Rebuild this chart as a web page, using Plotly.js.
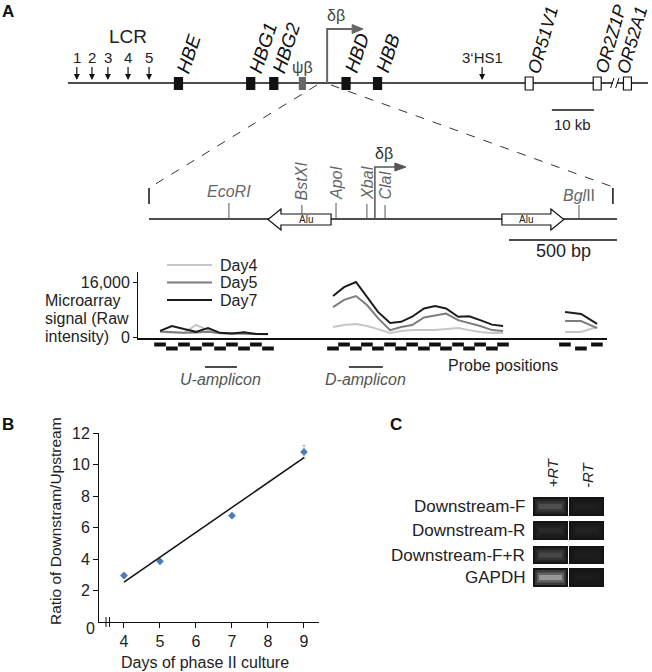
<!DOCTYPE html>
<html>
<head>
<meta charset="utf-8">
<script src="https://cdn.plot.ly/plotly-3.0.1.min.js"></script>
<style>
  body { margin: 0; background: #fff; }
  #fig { width: 652px; height: 672px; }
</style>
</head>
<body>
<div id="fig"></div>
<script>
// ---------- A: beta-globin locus (kb) ----------
const lcrSites = ["1", "2", "3", "4", "5"];
const lcrKb = [2.1, 5.7, 9.5, 14.3, 19.3];
const globinGenes = ["HBE", "HBG1", "HBG2", "HBD", "HBB"];
const globinKb = [26.3, 43.5, 49.0, 66.2, 73.7];
const pseudoGene = "ψβ";
const pseudoKb = 55.8;
const orGenes = ["OR51V1", "OR2Z1P", "OR52A1"];
const orKb = [109.8, 126.0, 133.2];
const hs3Kb = 98.6;
const dbStartKb = 61.7;
const breakKb = 130.2;
const locusEndKb = 138.1;
const scaleKb = [115.2, 125.2];

// ---------- A: enlarged delta-beta region (bp) ----------
const regionLenBp = 2167;
const bracketBp = [0, 2148];
const siteNames = ["<i>EcoRI</i>", "<i>BstXI</i>", "<i>ApoI</i>", "<i>XbaI</i>", "<i>ClaI</i>", "<i>Bgl</i>II"];
const siteBp = [370, 708, 866, 1009, 1093, 1991];
const aluLeftBp = [551, 843];
const aluRightBp = [1634, 1921];
const dbStartBp = 1046;
const scaleBp = [1667, 2167];
const uAmpliconBp = [259, 407];
const dAmpliconBp = [926, 1083];

// ---------- A: microarray probes and signal ----------
const days = ["Day4", "Day5", "Day7"];
const dayColors = ["#c6c6c6", "#7d7d7d", "#1c1c1c"];
const probeU = [51, 106, 162, 217, 273, 329, 384, 440, 495, 551];
const probeD = [852, 903, 958, 1009, 1060, 1116, 1167, 1218, 1273, 1324, 1375, 1431, 1482, 1533, 1588, 1639];
const probeR = [1926, 2000, 2074];
const day4U = [1450, 1300, 1150, 3500, 2000, 1150, 1000, 1200, 900, 900];
const day5U = [1600, 1400, 1200, 1300, 1500, 1100, 1000, 1100, 800, 800];
const day7U = [1800, 3200, 2300, 1500, 2600, 1200, 1000, 1400, 900, 900];
const day4D = [2900, 3500, 3800, 3200, 2300, 1150, 1750, 2000, 2000, 2000, 2300, 2600, 2000, 1450, 1150, 1150];
const day5D = [8700, 10800, 11900, 9300, 5500, 2000, 2900, 3500, 5700, 6300, 6800, 4900, 4100, 3200, 2000, 1750];
const day7D = [11900, 14500, 16000, 11600, 7300, 4100, 4400, 5900, 8300, 9000, 8300, 5900, 6000, 4900, 3600, 3200];
const day4R = [1450, 1450, 2900];
const day5R = [4650, 4650, 2600];
const day7R = [7300, 6700, 3800];

// ---------- B ----------
const cultureDay = [4, 5, 7, 9];
const ratio = [2.95, 3.85, 6.75, 10.8];
const ratioErr = [0.15, 0.1, 0.1, 0.4];

// ---------- C ----------
const gelRows = ["Downstream-F", "Downstream-R", "Downstream-F+R", "GAPDH"];
const gelLanes = ["+RT", "-RT"];
const bandLevel = [[0.35, 0.05], [0.12, 0.07], [0.3, 0.04], [0.8, 0.03]];

// ---------- helpers ----------
const W = 652, H = 672;
const px = v => v / W;
const py = v => 1 - v / H;
const BP_PER_PX = 4.63, KB_PER_PX = 1 / 4.2;
const FONT = "Liberation Sans, Arial, sans-serif";
const mid = a => (a[0] + a[1]) / 2;

const traces = [];
const shapes = [];
const anns = [];
function txt(o) {
  const f = Object.assign({ size: 15, color: "#222" }, o.font || {});
  return Object.assign({ showarrow: false, xref: "paper", yref: "y3", xanchor: "center", yanchor: "middle" }, o, { font: f });
}

// ----- locus map -----
traces.push({
  x: [0, breakKb - 0.5, null, breakKb + 0.5, locusEndKb], y: [83, 83, null, 83, 83],
  xaxis: "x4", yaxis: "y3", mode: "lines", line: { color: "#111", width: 1.5 },
  hoverinfo: "skip", showlegend: false
});
globinKb.forEach((k, i) => {
  shapes.push({ type: "rect", xref: "x4", yref: "y3", x0: k - 1.1, x1: k + 1.1, y0: 77, y1: 90,
    fillcolor: "#111", line: { width: 0 } });
  anns.push(txt({ xref: "x4", x: k, y: 78, xanchor: "left", yanchor: "bottom", xshift: -8, textangle: -72,
    text: "<i>" + globinGenes[i] + "</i>", font: { size: 19, color: "#111" } }));
});
shapes.push({ type: "rect", xref: "x4", yref: "y3", x0: pseudoKb - 0.85, x1: pseudoKb + 0.85, y0: 77, y1: 90,
  fillcolor: "#666", line: { width: 0 } });
anns.push(txt({ xref: "x4", x: pseudoKb, y: 67, text: pseudoGene, font: { size: 16, color: "#444" } }));
orKb.forEach((k, i) => {
  shapes.push({ type: "rect", xref: "x4", yref: "y3", x0: k - 0.95, x1: k + 0.95, y0: 77, y1: 90,
    fillcolor: "#fff", line: { color: "#111", width: 1.2 } });
  const last = i === orKb.length - 1;
  anns.push(txt({ xref: "x4", x: k, y: 78, xanchor: last ? "right" : "left", yanchor: "bottom",
    xshift: last ? 26 : -8, textangle: -74,
    text: "<i>" + orGenes[i] + "</i>", font: { size: 18, color: "#111" } }));
});
// break marks
[-0.6, 0.6].forEach(d => shapes.push({ type: "line", xref: "x4", yref: "y3",
  x0: breakKb + d - 0.4, x1: breakKb + d + 0.4, y0: 88, y1: 78, line: { color: "#111", width: 1 } }));
// LCR hypersensitive sites and 3'HS1
lcrKb.forEach((k, i) => anns.push(txt({ xref: "x4", x: k, y: 80, text: lcrSites[i], showarrow: true,
  arrowhead: 2, arrowsize: 1, arrowwidth: 1.2, arrowcolor: "#111", ax: 0, ay: -23, font: { size: 15 } })));
anns.push(txt({ xref: "x4", x: hs3Kb, y: 80, text: "3‘HS1", showarrow: true,
  arrowhead: 2, arrowsize: 1, arrowwidth: 1.2, arrowcolor: "#111", ax: 0, ay: -23, font: { size: 15 } }));
anns.push(txt({ x: px(128), y: 36, text: "LCR", font: { size: 19 } }));
// delta-beta start
const dbH = 25 * KB_PER_PX, dbT = 36 * KB_PER_PX;
shapes.push({ type: "path", xref: "x4", yref: "y3",
  path: `M${dbStartKb},83 L${dbStartKb},29 L${dbStartKb + dbH},29`, line: { color: "#666", width: 2 } });
shapes.push({ type: "path", xref: "x4", yref: "y3",
  path: `M${dbStartKb + dbH},24.5 L${dbStartKb + dbT},29 L${dbStartKb + dbH},33.5 Z`,
  fillcolor: "#666", line: { color: "#666", width: 1 } });
anns.push(txt({ xref: "x4", x: dbStartKb, xshift: 9, y: 15, text: "δβ", font: { size: 16, color: "#444" } }));
// 10 kb scale
shapes.push({ type: "line", xref: "x4", yref: "y3", x0: scaleKb[0], x1: scaleKb[1], y0: 110, y1: 110,
  line: { color: "#111", width: 1.5 } });
anns.push(txt({ xref: "x4", x: mid(scaleKb), y: 124, text: "10 kb", font: { size: 15 } }));

// dashed zoom lines
shapes.push({ type: "line", xref: "paper", yref: "y3", x0: px(317), y0: 85, x1: px(149), y1: 188,
  line: { color: "#333", width: 1, dash: "dash" } });
shapes.push({ type: "line", xref: "paper", yref: "y3", x0: px(331), y0: 85, x1: px(613), y1: 187,
  line: { color: "#333", width: 1, dash: "dash" } });

// ----- enlarged region -----
traces.push({ x: [0, regionLenBp], y: [219, 219], xaxis: "x3", yaxis: "y3", mode: "lines",
  line: { color: "#111", width: 1.5 }, hoverinfo: "skip", showlegend: false });
const siteTop = [203, 205, 203, 204, 205, 205];
const tickX = [], tickY = [];
siteBp.forEach((b, i) => { tickX.push(b, b, null); tickY.push(219, siteTop[i], null); });
traces.push({ x: tickX, y: tickY, xaxis: "x3", yaxis: "y3", mode: "lines",
  line: { color: "#555", width: 1 }, hoverinfo: "skip", showlegend: false });
bracketBp.forEach(b => shapes.push({ type: "line", xref: "x3", yref: "y3", x0: b, x1: b, y0: 188, y1: 204,
  line: { color: "#111", width: 1.5 } }));
siteBp.forEach((b, i) => {
  if (i === 0 || i === 5) {
    anns.push(txt({ xref: "x3", x: b, y: i === 0 ? 191 : 195, text: siteNames[i], font: { size: 16, color: "#666" } }));
  } else {
    anns.push(txt({ xref: "x3", x: b, y: 202, yanchor: "bottom", textangle: -90, text: siteNames[i],
      font: { size: 16, color: "#666" } }));
  }
});
// Alu elements
const headBp = 60;
shapes.push({ type: "path", xref: "x3", yref: "y3", fillcolor: "#fff", line: { color: "#111", width: 1.2 },
  path: `M${aluLeftBp[1]},214 L${aluLeftBp[0] + headBp},214 L${aluLeftBp[0] + headBp},209 L${aluLeftBp[0]},219.5 ` +
        `L${aluLeftBp[0] + headBp},230 L${aluLeftBp[0] + headBp},225 L${aluLeftBp[1]},225 Z` });
shapes.push({ type: "path", xref: "x3", yref: "y3", fillcolor: "#fff", line: { color: "#111", width: 1.2 },
  path: `M${aluRightBp[0]},214 L${aluRightBp[1] - headBp},214 L${aluRightBp[1] - headBp},209 L${aluRightBp[1]},219.5 ` +
        `L${aluRightBp[1] - headBp},230 L${aluRightBp[1] - headBp},225 L${aluRightBp[0]},225 Z` });
anns.push(txt({ xref: "x3", x: mid([aluLeftBp[0] + headBp, aluLeftBp[1]]), y: 219.5, text: "Alu", font: { size: 10 } }));
anns.push(txt({ xref: "x3", x: mid([aluRightBp[0], aluRightBp[1] - headBp]), y: 219.5, text: "Alu", font: { size: 10 } }));
// delta-beta start in the enlarged region
const h2 = 20 * BP_PER_PX, t2 = 31 * BP_PER_PX;
shapes.push({ type: "path", xref: "x3", yref: "y3",
  path: `M${dbStartBp},219 L${dbStartBp},167 L${dbStartBp + h2},167`, line: { color: "#555", width: 1.5 } });
shapes.push({ type: "path", xref: "x3", yref: "y3",
  path: `M${dbStartBp + h2},163 L${dbStartBp + t2},167 L${dbStartBp + h2},171 Z`,
  fillcolor: "#555", line: { color: "#555", width: 1 } });
anns.push(txt({ xref: "x3", x: dbStartBp, xshift: 9, y: 153, text: "δβ", font: { size: 16, color: "#333" } }));
// 500 bp scale
shapes.push({ type: "line", xref: "x3", yref: "y3", x0: scaleBp[0], x1: scaleBp[1], y0: 240, y1: 240,
  line: { color: "#111", width: 1.5 } });
anns.push(txt({ xref: "x3", x: mid(scaleBp), y: 251, text: "500 bp", font: { size: 18 } }));

// ----- microarray signal -----
const regions = [probeU, probeD, probeR];
const dayVals = [[day4U, day4D, day4R], [day5U, day5D, day5R], [day7U, day7D, day7R]];
days.forEach((d, i) => {
  const xs = [], ys = [];
  regions.forEach((pos, r) => {
    if (r) { xs.push(null); ys.push(null); }
    xs.push(...pos); ys.push(...dayVals[i][r]);
  });
  traces.push({ x: xs, y: ys, xaxis: "x2", yaxis: "y2", mode: "lines", name: d,
    line: { color: dayColors[i], width: 2 }, hoverinfo: "skip", showlegend: false });
  shapes.push({ type: "line", xref: "paper", yref: "y3", x0: px(167), x1: px(212), y0: 265 + i * 17.5, y1: 265 + i * 17.5,
    line: { color: dayColors[i], width: 2 } });
  anns.push(txt({ x: px(218), xanchor: "left", y: 265 + i * 17.5, text: d, font: { size: 16 } }));
});
// probe positions (staircase)
const probeStart = [0, 1, 0];
regions.forEach((pos, r) => pos.forEach((p, j) => {
  const up = (j + probeStart[r]) % 2 === 0;
  shapes.push({ type: "rect", xref: "x3", yref: "y3", x0: p - 27, x1: p + 27,
    y0: up ? 342.5 : 346.5, y1: up ? 346.5 : 350.5, fillcolor: "#111", line: { width: 0 } });
}));
anns.push(txt({ x: px(503), y: 365, text: "Probe positions", font: { size: 16 } }));
[uAmpliconBp, dAmpliconBp].forEach((a, i) => {
  shapes.push({ type: "line", xref: "x3", yref: "y3", x0: a[0], x1: a[1], y0: 367, y1: 367,
    line: { color: "#111", width: 1.5 } });
  anns.push(txt({ xref: "x3", x: mid(a), y: 379, text: i ? "<i>D-amplicon</i>" : "<i>U-amplicon</i>",
    font: { size: 16, color: "#555" } }));
});
["Microarray", "signal (Raw", "intensity)"].forEach((s, i) =>
  anns.push(txt({ x: px(43), xanchor: "left", y: 300 + i * 18, text: s, font: { size: 16 } })));

// ----- B -----
traces.push({ x: cultureDay, y: ratio, xaxis: "x", yaxis: "y", mode: "markers",
  marker: { symbol: "diamond", size: 6, color: "#4a7ebb" },
  error_y: { type: "data", array: ratioErr, color: "#a9bcd9", thickness: 1, width: 2 },
  hoverinfo: "skip", showlegend: false });
const mx = cultureDay.reduce((a, b) => a + b, 0) / cultureDay.length;
const my = ratio.reduce((a, b) => a + b, 0) / ratio.length;
let sxy = 0, sxx = 0;
cultureDay.forEach((d, i) => { sxy += (d - mx) * (ratio[i] - my); sxx += (d - mx) * (d - mx); });
const slope = sxy / sxx, icpt = my - slope * mx;
const fitX = [cultureDay[0], cultureDay[cultureDay.length - 1]];
traces.push({ x: fitX, y: fitX.map(d => icpt + slope * d), xaxis: "x", yaxis: "y", mode: "lines",
  line: { color: "#111", width: 1.5 }, hoverinfo: "skip", showlegend: false });
[106, 109.5].forEach(x => shapes.push({ type: "line", xref: "paper", yref: "y3", x0: px(x), x1: px(x), y0: 617, y1: 627,
  line: { color: "#111", width: 1 } }));
anns.push(txt({ x: px(90), y: 628, text: "0", font: { size: 16 } }));
anns.push(txt({ x: px(55), y: 521, textangle: -90, text: "Ratio of Downstram/Upstream", font: { size: 15.5 } }));
anns.push(txt({ x: px(205), y: 662, text: "Days of phase II culture", font: { size: 16 } }));

// ----- C: gel -----
const laneX = [[533, 568], [569, 604]];
const rowY = [[497, 516], [521, 540], [546, 564], [568, 587]];
const grey = v => { const g = Math.round(Math.min(255, v)); return `rgb(${g},${g},${g})`; };
gelRows.forEach((row, r) => {
  const [y0, y1] = rowY[r], yc = (y0 + y1) / 2;
  laneX.forEach(([x0, x1], l) => {
    const v = bandLevel[r][l];
    shapes.push({ type: "rect", xref: "paper", yref: "y3", x0: px(x0), x1: px(x1), y0, y1, fillcolor: "#141414", line: { width: 0 } });
    shapes.push({ type: "rect", xref: "paper", yref: "y3", x0: px(x0 + 2), x1: px(x1 - 2), y0: y0 + 2, y1: y1 - 2,
      fillcolor: grey(22 + v * 45), line: { width: 0 } });
    shapes.push({ type: "rect", xref: "paper", yref: "y3", x0: px(x0 + 4), x1: px(x1 - 4), y0: yc - 5, y1: yc + 5,
      fillcolor: grey(22 + v * 95), line: { width: 0 } });
    shapes.push({ type: "rect", xref: "paper", yref: "y3", x0: px(x0 + 6), x1: px(x1 - 6), y0: yc - 2.5, y1: yc + 2.5,
      fillcolor: grey(22 + v * 160), line: { width: 0 } });
  });
  anns.push(txt({ x: px(527), xanchor: "right", y: yc, text: row, font: { size: 17 } }));
});
gelLanes.forEach((s, l) => anns.push(txt({ x: px(mid(laneX[l]) + 1), y: 490, yanchor: "bottom", textangle: -90,
  text: "<i>" + s + "</i>", font: { size: 15 } })));

// panel letters
[["A", 8, 11], ["B", 8, 424], ["C", 396, 424]].forEach(([s, x, y]) =>
  anns.push(txt({ x: px(x), y, text: "<b>" + s + "</b>", font: { size: 17, color: "#111" } })));

const hidden = { visible: false, showgrid: false, zeroline: false, fixedrange: true };
const layout = {
  width: W, height: H, margin: { l: 0, r: 0, t: 0, b: 0 },
  paper_bgcolor: "#fff", plot_bgcolor: "rgba(0,0,0,0)",
  font: { family: FONT, color: "#222" },
  showlegend: false,
  xaxis: { domain: [px(99), px(319)], range: [3.306, 9.417], anchor: "y", showline: true, linecolor: "#111",
    linewidth: 1, ticks: "outside", ticklen: 5, tickcolor: "#111", tickvals: [4, 5, 6, 7, 8, 9],
    tickfont: { size: 16 }, showgrid: false, zeroline: false },
  yaxis: { domain: [py(622), py(433)], range: [0, 12], anchor: "x", showline: true, linecolor: "#111",
    linewidth: 1, ticks: "outside", ticklen: 5, tickcolor: "#111", tickvals: [2, 4, 6, 8, 10, 12],
    tickfont: { size: 16 }, showgrid: false, zeroline: false },
  xaxis2: { domain: [px(138), px(607)], range: [-51, 2120], anchor: "y2", showline: true, linecolor: "#111",
    linewidth: 1.5, showticklabels: false, ticks: "", showgrid: false, zeroline: false },
  yaxis2: { domain: [py(338), py(272)], range: [-291, 18909], anchor: "x2", showline: true, linecolor: "#111",
    linewidth: 1, ticks: "outside", ticklen: 4, tickcolor: "#111", tickvals: [0, 16000], ticktext: ["0", "16,000"],
    tickfont: { size: 16 }, showgrid: false, zeroline: false },
  xaxis3: Object.assign({ domain: [px(140), px(625)], range: [-9 * BP_PER_PX, regionLenBp + 8 * BP_PER_PX], anchor: "y3" }, hidden),
  xaxis4: Object.assign({ domain: [px(68), px(652)], range: [0, 584 * KB_PER_PX], anchor: "y3" }, hidden),
  yaxis3: Object.assign({ domain: [0, 1], range: [H, 0], anchor: "x3" }, hidden),
  shapes: shapes,
  annotations: anns
};

Plotly.newPlot("fig", traces, layout, { staticPlot: true, displayModeBar: false });
</script>
</body>
</html>
